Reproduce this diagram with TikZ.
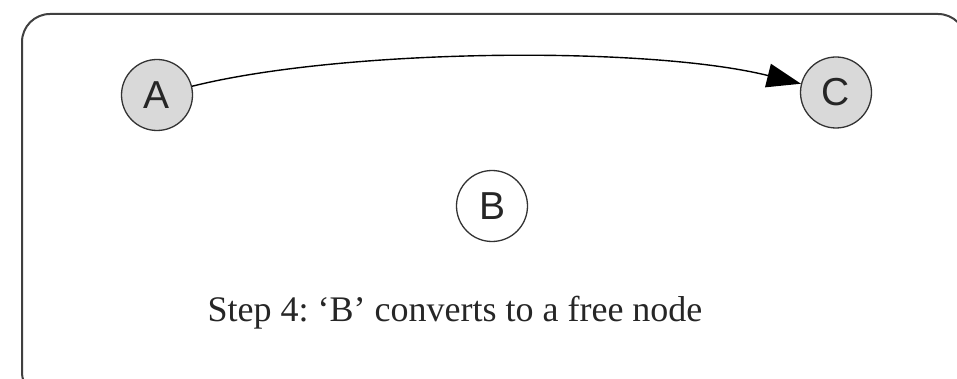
\documentclass[tikz,border=0pt]{standalone}
\usepackage{fontspec}
\setmainfont{Liberation Serif}
\newfontfamily\nodefont{Liberation Sans}
\usetikzlibrary{arrows.meta}
\frenchspacing
\tikzset{
  vertex/.style={circle, draw=black!80, line width=1.3pt, minimum size=71pt, inner sep=0pt,
    font=\nodefont\fontsize{39}{40}\selectfont, text=black!85},
  filled/.style={vertex, fill=black!15},
  frame/.style={draw=black!75, line width=2pt, rounded corners=28pt},
  edge/.style={line width=1.4pt, draw=black, -{Triangle[length=34pt,width=24pt]}}
}
\begin{document}
\begin{tikzpicture}[x=1pt,y=-1pt]
\useasboundingbox (0,0) rectangle (957,379);
\begin{scope}
\clip (0,0) rectangle (957,379);
\draw[frame] (22,14) rectangle (966,400);
\end{scope}
\node[filled] (A) at (157,95) {A};
\node[filled] (C) at (836,92.5) {C};
\node[vertex] (B) at (492,206) {B};
\draw[edge] (A) to[out=14, in=166, looseness=0.66] (C);
\node[font=\fontsize{36}{40}\selectfont, text=black!85] (cap) at (455,313) {Step 4: ‘B’ converts to a free node};
\end{tikzpicture}
\end{document}
